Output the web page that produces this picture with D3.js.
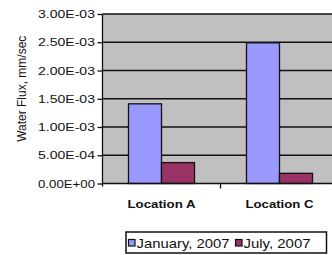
<!DOCTYPE html>
<html><head><meta charset="utf-8">
<script src="https://cdn.jsdelivr.net/npm/d3@7"></script>
<style>html,body{margin:0;padding:0;background:#fff;overflow:hidden}svg{display:block}text{font-family:"Liberation Sans",Arial,sans-serif;fill:#111}</style>
</head><body><svg id="c" width="332" height="255"></svg>
<script>
const categories = ["Location A", "Location C"];
const seriesNames = ["January, 2007", "July, 2007"];
const january = [1.41e-3, 2.49e-3];
const july = [3.7e-4, 1.8e-4];
const yTickValues = [0, 5e-4, 1e-3, 1.5e-3, 2e-3, 2.5e-3, 3e-3];
const yTickLabels = ["0.00E+00", "5.00E-04", "1.00E-03", "1.50E-03", "2.00E-03", "2.50E-03", "3.00E-03"];
const yTitle = "Water Flux, mm/sec";
const colors = ["#9999ff", "#993366"];

const svg = d3.select("#c");
const L = 102.5, R = 338.5, T = 14, B = 183.5;
const x0 = d3.scaleBand().domain(categories).range([L, R]).paddingInner(0).paddingOuter(0);
const x1 = d3.scaleBand().domain(seriesNames).range([0, x0.bandwidth()]).paddingInner(0).paddingOuter(0.788);
const y = d3.scaleLinear().domain([0, 3e-3]).range([B, T]);

// plot area
svg.append("rect").attr("x", L).attr("y", T).attr("width", R - L).attr("height", B - T).attr("fill", "#c0c0c0");
// gridlines
svg.append("g").selectAll("line").data(yTickValues.filter(v => v > 0)).join("line")
  .attr("x1", L).attr("x2", R).attr("y1", d => y(d)).attr("y2", d => y(d))
  .attr("stroke", "#111").attr("stroke-width", 1.3);

// bars
const data = categories.map((c, i) => ({c, vals: [january[i], july[i]]}));
const g = svg.append("g").selectAll("g").data(data).join("g").attr("transform", d => `translate(${x0(d.c)},0)`);
g.selectAll("rect").data(d => d.vals.map((v, j) => ({v, s: seriesNames[j], j}))).join("rect")
  .attr("x", d => x1(d.s)).attr("width", x1.bandwidth())
  .attr("y", d => y(d.v)).attr("height", d => y(0) - y(d.v))
  .attr("fill", d => colors[d.j]).attr("stroke", "#111").attr("stroke-width", 1.3);

// y axis
const yAxis = d3.axisLeft(y).tickValues(yTickValues).tickSize(5).tickSizeOuter(0)
  .tickFormat((d, i) => yTickLabels[i]);
const ya = svg.append("g").attr("transform", `translate(${L},0)`).call(yAxis);
ya.select(".domain").attr("stroke", "#111").attr("stroke-width", 1.3).attr("d", `M0,${T}V${B + 3}`);
ya.selectAll(".tick line").attr("stroke", "#111").attr("stroke-width", 1.3);
ya.selectAll(".tick text").attr("x", -7.5).attr("font-size", 10.5).attr("fill", "#111")
  .attr("textLength", 57).attr("lengthAdjust", "spacingAndGlyphs").attr("dy", "0.35em");

// x axis
const xAxis = d3.axisBottom(x0).tickSize(0).tickFormat(() => "");
const xa = svg.append("g").attr("transform", `translate(0,${B})`).call(xAxis);
xa.select(".domain").attr("stroke", "#111").attr("stroke-width", 1.3).attr("d", `M${L},0H${R}`);
xa.selectAll(".tick").remove();
// tick between categories
svg.append("line").attr("x1", x0(categories[1])).attr("x2", x0(categories[1]))
  .attr("y1", B).attr("y2", B + 5).attr("stroke", "#111").attr("stroke-width", 1.3);
svg.append("g").selectAll("text").data(categories).join("text")
  .attr("x", d => x0(d) + x0.bandwidth() / 2).attr("y", 207.5)
  .attr("text-anchor", "middle").attr("font-size", 11).attr("font-weight", "bold")
  .attr("textLength", 68).attr("lengthAdjust", "spacingAndGlyphs").text(d => d);

// y title
svg.append("text").attr("transform", `translate(26,${(T + B) / 2 - 10}) rotate(-90)`)
  .attr("text-anchor", "middle").attr("font-size", 12).text(yTitle);

// legend
const lg = svg.append("g");
lg.append("rect").attr("x", 126).attr("y", 232).attr("width", 200.5).attr("height", 21)
  .attr("fill", "#fff").attr("stroke", "#111").attr("stroke-width", 1.5);
const items = [{n: seriesNames[0], c: colors[0], x: 128.5, w: 93}, {n: seriesNames[1], c: colors[1], x: 235.5, w: 67}];
items.forEach(it => {
  lg.append("rect").attr("x", it.x).attr("y", 239.5).attr("width", 6.5).attr("height", 6.5)
    .attr("fill", it.c).attr("stroke", "#111").attr("stroke-width", 1.2);
  lg.append("text").attr("x", it.x + 8).attr("y", 247.5).attr("font-size", 13)
    .attr("textLength", it.w).attr("lengthAdjust", "spacingAndGlyphs").text(it.n);
});
</script></body></html>
